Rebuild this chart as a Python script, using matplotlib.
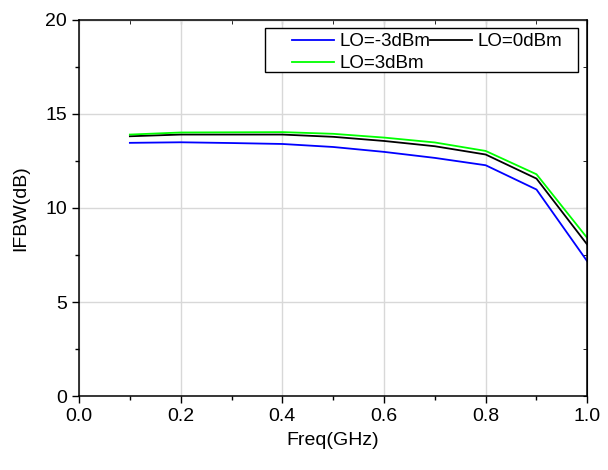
import numpy as np
import matplotlib
matplotlib.use("Agg")
import matplotlib.pyplot as plt
from matplotlib.ticker import MultipleLocator
from matplotlib.patches import Rectangle

plt.rcParams['font.family'] = ['Liberation Sans', 'DejaVu Sans']

freq = [0.1, 0.2, 0.3, 0.4, 0.5, 0.6, 0.7, 0.8, 0.9, 1.0]
lo_m3 = [13.46, 13.49, 13.45, 13.40, 13.24, 12.98, 12.66, 12.27, 10.98, 7.16]
lo_0 = [13.81, 13.90, 13.90, 13.90, 13.78, 13.56, 13.28, 12.84, 11.56, 8.05]
lo_3 = [13.90, 14.01, 14.02, 14.03, 13.94, 13.74, 13.48, 13.03, 11.79, 8.40]

fig = plt.figure(figsize=(6.08, 4.70), dpi=100)
ax = fig.add_axes([0.13, 0.157, 0.836, 0.801])

l1, = ax.plot(freq, lo_m3, color='#0000ff', lw=1.3, label='LO=-3dBm')
l2, = ax.plot(freq, lo_0, color='black', lw=1.3, label='LO=0dBm')
l3, = ax.plot(freq, lo_3, color='#00ff00', lw=1.3, label='LO=3dBm')

ax.set_xlim(0, 1.0)
ax.set_ylim(0, 20)
ax.xaxis.set_major_locator(MultipleLocator(0.2))
ax.xaxis.set_minor_locator(MultipleLocator(0.1))
ax.yaxis.set_major_locator(MultipleLocator(5))
ax.yaxis.set_minor_locator(MultipleLocator(2.5))
ax.xaxis.set_major_formatter(plt.FormatStrFormatter('%.1f'))

ax.grid(True, which='major', color='#d8d8d8', lw=1.0)
ax.set_axisbelow(True)

ax.tick_params(which='major', direction='out', length=5, width=1, labelsize=14)
ax.tick_params(which='minor', direction='out', length=3, width=1)
for s in ax.spines.values():
    s.set_linewidth(1.1)

# inward ticks on top and right
top = ax.secondary_xaxis('top')
top.xaxis.set_major_locator(MultipleLocator(0.2))
top.xaxis.set_minor_locator(MultipleLocator(0.1))
top.tick_params(which='both', direction='in', length=3, labeltop=False)
right = ax.secondary_yaxis('right')
right.yaxis.set_major_locator(MultipleLocator(5))
right.yaxis.set_minor_locator(MultipleLocator(2.5))
right.tick_params(which='both', direction='in', length=3, labelright=False)

ax.set_xlabel('Freq(GHz)', fontsize=14, labelpad=5)
ax.set_ylabel('IFBW(dB)', fontsize=14, labelpad=12)

# legend box drawn by hand (wide side padding like the original)
box = Rectangle((0.366, 0.861), 0.616, 0.117, transform=ax.transAxes,
                facecolor='white', edgecolor='black', lw=1.0, zorder=4)
ax.add_patch(box)
leg = ax.legend([l1, l3, l2], ['LO=-3dBm', 'LO=3dBm', 'LO=0dBm'],
                loc='upper left', bbox_to_anchor=(0.419, 0.964), ncol=2,
                fontsize=13.5, frameon=False,
                columnspacing=0.0, handlelength=2.24, handletextpad=0.27,
                borderpad=0, labelspacing=0.25, borderaxespad=0)
leg.set_zorder(5)

fig.savefig('out.png', dpi=100)
